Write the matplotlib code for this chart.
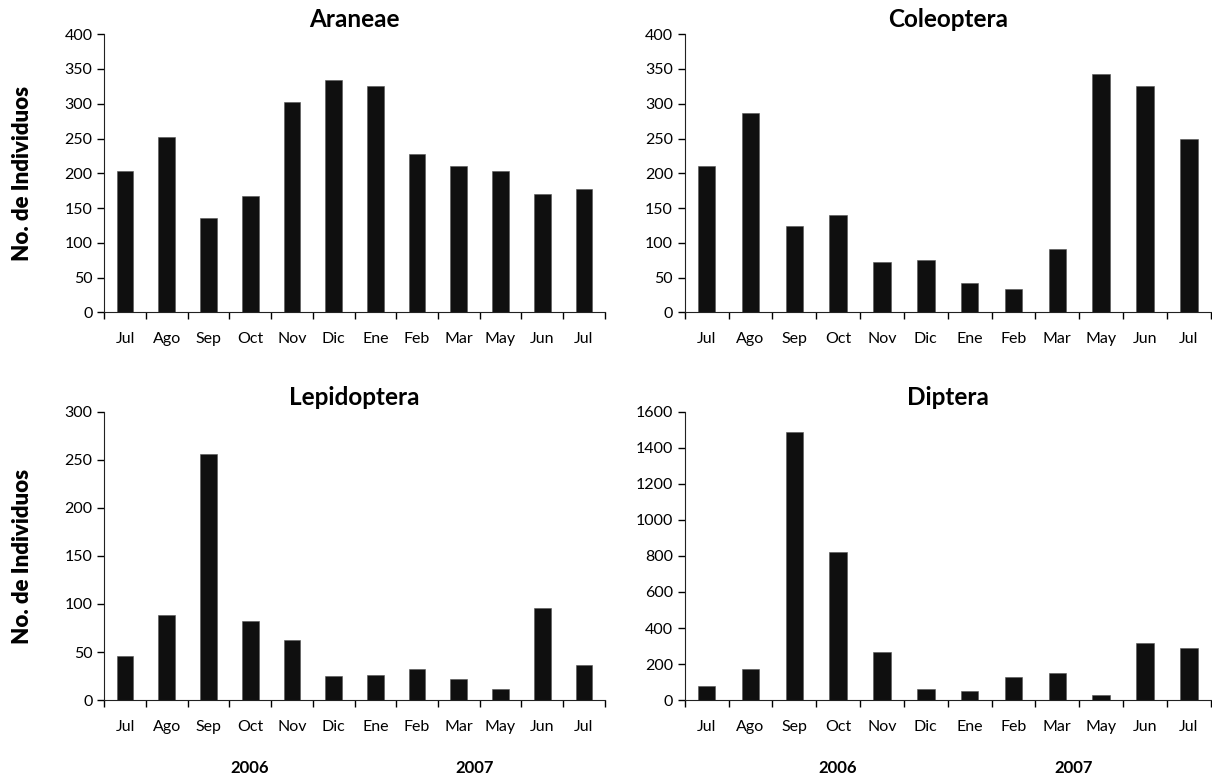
import matplotlib.pyplot as plt
import numpy as np

plt.rcParams['font.family'] = ['Lato', 'DejaVu Sans']

months = ["Jul", "Ago", "Sep", "Oct", "Nov", "Dic", "Ene", "Feb", "Mar", "May", "Jun", "Jul"]

araneae = [203, 252, 136, 168, 302, 334, 325, 228, 211, 203, 170, 177]
coleoptera = [210, 286, 124, 140, 72, 75, 42, 34, 91, 343, 325, 250]
lepidoptera = [46, 89, 256, 82, 63, 25, 26, 32, 22, 12, 96, 36]
diptera = [76, 173, 1490, 822, 268, 60, 48, 130, 149, 28, 316, 290]

panels = [
    ("Araneae", araneae, 400, 50),
    ("Coleoptera", coleoptera, 400, 50),
    ("Lepidoptera", lepidoptera, 300, 50),
    ("Diptera", diptera, 1600, 200),
]

# axes boxes [left, bottom, width, height] in figure fraction
boxes = [
    [0.086, 0.598, 0.413, 0.358],
    [0.565, 0.598, 0.434, 0.358],
    [0.086, 0.099, 0.413, 0.371],
    [0.565, 0.099, 0.434, 0.371],
]

fig = plt.figure(figsize=(12.12, 7.77), dpi=100)

for i, (name, vals, ymax, step) in enumerate(panels):
    ax = fig.add_axes(boxes[i])
    x = np.arange(len(months))
    ax.bar(x, vals, width=0.4, color="#0f0f0f", edgecolor="#555555", linewidth=0.4)
    ax.set_xlim(-0.5, len(months) - 0.5)
    ax.set_ylim(0, ymax)
    ax.set_yticks(np.arange(0, ymax + 1, step))
    ax.set_xticks(x)
    ax.set_xticklabels(months, fontsize=11.5)
    ax.tick_params(axis="x", length=0, pad=14)
    # Excel-style ticks between categories
    ax.set_xticks(np.arange(-0.5, len(months)), minor=True)
    ax.tick_params(axis="x", which="minor", length=5, width=1, direction="out")
    ax.tick_params(axis="y", labelsize=11.5, length=5, width=1, direction="out")
    for s in ["top", "right"]:
        ax.spines[s].set_visible(False)
    ax.spines["left"].set_color("#222222")
    ax.spines["bottom"].set_color("#222222")
    ax.set_title(name, fontsize=17.5, fontweight="bold", pad=5)
    if i % 2 == 0:
        ax.set_ylabel("No. de Individuos", fontsize=16, fontweight="heavy")
        ax.yaxis.set_label_coords(-0.142, 0.5)
    if i >= 2:
        ax.text(0.29, -0.235, "2006", transform=ax.transAxes, ha="center", va="center",
                fontsize=12, fontweight="bold")
        ax.text(0.74, -0.235, "2007", transform=ax.transAxes, ha="center", va="center",
                fontsize=12, fontweight="bold")

fig.savefig("out.png", dpi=100)
